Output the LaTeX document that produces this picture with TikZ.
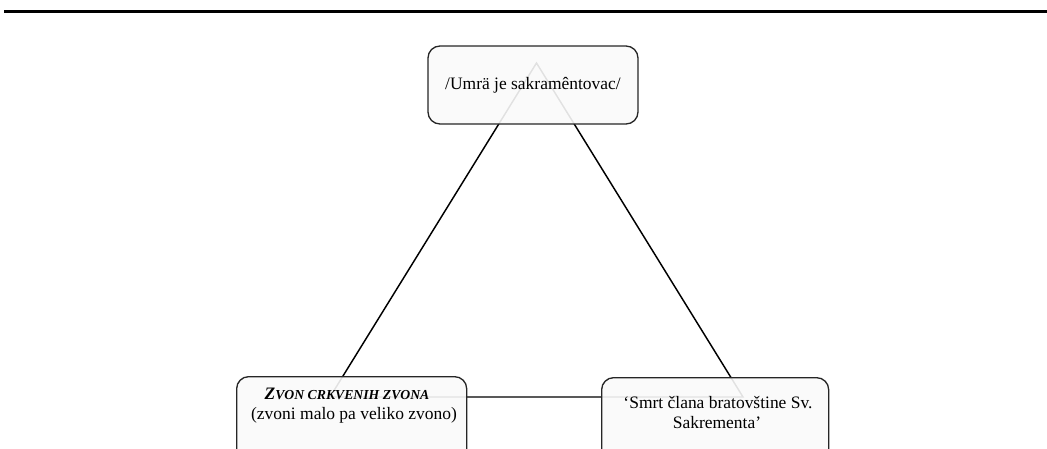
\documentclass[tikz,border=0pt]{standalone}
\usepackage{fontspec}
\setmainfont{Liberation Serif}
\begin{document}
\begin{tikzpicture}[x=0.75pt,y=-0.75pt,
  box/.style={draw=black!85,line width=1pt,rounded corners=9pt,fill=black!2,fill opacity=0.9,text opacity=1,inner sep=0pt},
  link/.style={draw=black,line width=1.1pt},
  txt/.style={font=\fontsize{13.1}{16}\selectfont,inner sep=0pt,align=center}]
\useasboundingbox (0,0) rectangle (1047,449);
\clip (0,0) rectangle (1047,449);
% top rule
\coordinate (r1) at (4,11.5);
\coordinate (r2) at (1047,11.5);
\draw[line width=1.6pt] (r1) -- (r2);
% triangle
\coordinate (A) at (536.5,63);
\coordinate (B) at (330,397);
\coordinate (C) at (743,397);
\draw[link] (A) -- (B) -- (C) -- cycle;
% boxes
\node[box,minimum width=210*0.75pt,minimum height=78*0.75pt] (top) at (533,85) {};
\node[box,minimum width=230*0.75pt,minimum height=90*0.75pt,anchor=north west] (left) at (236,376) {};
\node[box,minimum width=227*0.75pt,minimum height=90*0.75pt,anchor=north west] (right) at (601,377) {};
% texts
\node[txt] (ttop) at (533,85) {/Umrä je sakramêntovac/};
\node[txt] (tl1) at (347,394) {\textbf{\textit{Z\fontsize{10.3}{12}\selectfont VON CRKVENIH ZVONA}}};
\node[txt] (tl2) at (354,415) {(zvoni malo pa veliko zvono)};
\node[txt] (tr1) at (718,402.5) {‘Smrt člana bratovštine Sv.};
\node[txt] (tr2) at (717,423) {Sakrementa’};
\end{tikzpicture}
\end{document}
